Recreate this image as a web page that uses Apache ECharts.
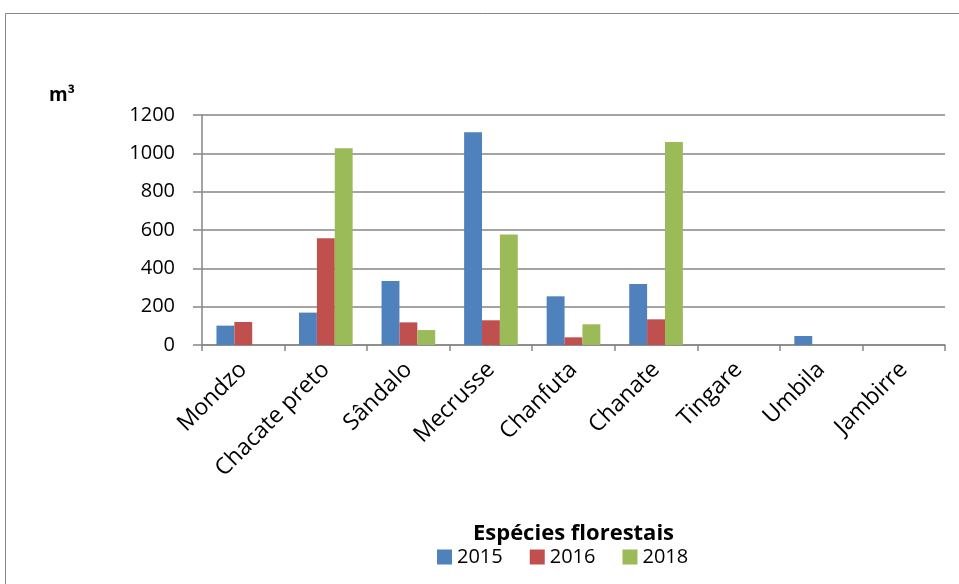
<!DOCTYPE html>
<html>
<head>
<meta charset="utf-8">
<script src="https://cdn.jsdelivr.net/npm/echarts@6/dist/echarts.min.js"></script>
<style>
  html, body { margin: 0; padding: 0; background: #fff; }
  #chart { width: 959px; height: 584px; }
</style>
</head>
<body>
<div id="chart"></div>
<script>
const categories = ["Mondzo", "Chacate preto", "Sândalo", "Mecrusse", "Chanfuta", "Chanate", "Tingare", "Umbila", "Jambirre"];
const years = ["2015", "2016", "2018"];
const values2015 = [101, 169, 334, 1110, 254, 318, 0, 47, 0];
const values2016 = [120, 557, 118, 129, 40, 134, 0, 0, 0];
const values2018 = [0, 1026, 78, 576, 108, 1059, 0, 0, 0];
const yTicks = { min: 0, max: 1200, interval: 200 };

const colors = ["#4f81bd", "#c0504d", "#9bbb59"];
const font = "'Open Sans', sans-serif";
const gray = "#868686";

const chart = echarts.init(document.getElementById("chart"));
const seriesData = [values2015, values2016, values2018];

chart.setOption({
  animation: false,
  color: colors,
  graphic: [{
    type: "rect",
    shape: { x: 5.5, y: 13.5, width: 960, height: 580 },
    style: { fill: "none", stroke: gray, lineWidth: 1 }
  }, {
    type: "text",
    left: 49, top: 86,
    style: { text: "m³", font: "bold 19px " + font, fill: "#000" }
  }],
  grid: { left: 202, right: 14, top: 115, bottom: 239 },
  legend: {
    data: years,
    left: 432, top: 542,
    itemWidth: 15, itemHeight: 15, itemGap: 27,
    icon: "rect",
    textStyle: { fontFamily: font, fontSize: 20, color: "#000" }
  },
  xAxis: {
    type: "category",
    data: categories,
    name: "Espécies florestais",
    nameLocation: "middle",
    nameGap: 178,
    nameTextStyle: { fontFamily: font, fontSize: 22, fontWeight: "bold", color: "#000" },
    axisLine: { lineStyle: { color: gray, width: 1.5 } },
    axisTick: { show: true, length: 6, lineStyle: { color: gray, width: 1.5 } },
    axisLabel: { rotate: 45, fontFamily: font, fontSize: 23, color: "#000", margin: 21, interval: 0 }
  },
  yAxis: {
    type: "value",
    min: yTicks.min, max: yTicks.max, interval: yTicks.interval,
    axisLine: { show: true, lineStyle: { color: gray, width: 1.5 } },
    axisTick: { show: true, length: 9, lineStyle: { color: gray, width: 1.5 } },
    splitLine: { lineStyle: { color: gray, width: 1.5 } },
    axisLabel: { fontFamily: font, fontSize: 20, color: "#000", margin: 27, formatter: v => String(v) }
  },
  series: years.map((y, i) => ({
    name: y,
    type: "bar",
    data: seriesData[i],
    barGap: "0%",
    barCategoryGap: "35%",
    itemStyle: { color: colors[i] }
  }))
});
</script>
</body>
</html>
